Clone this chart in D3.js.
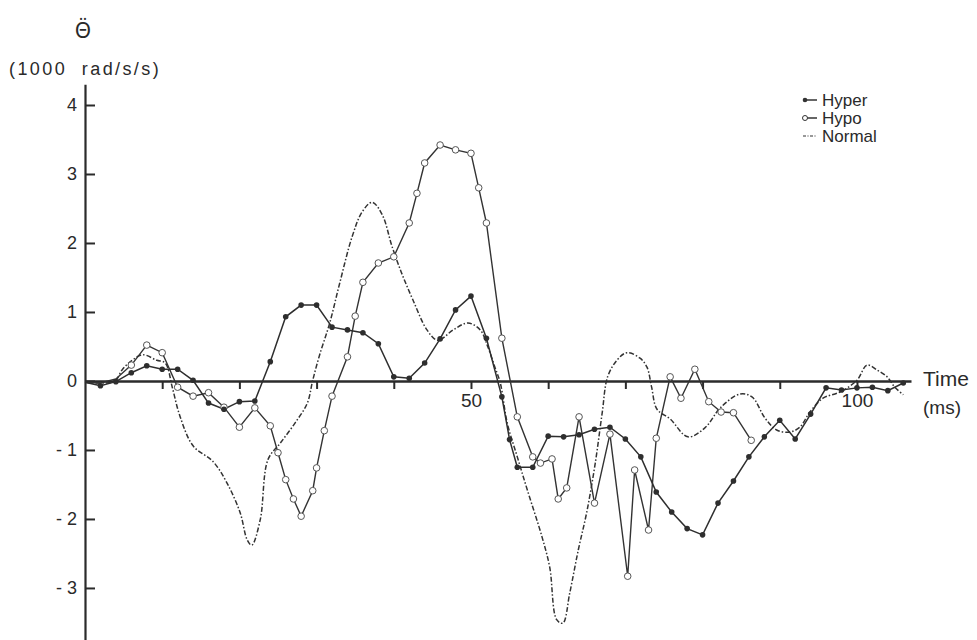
<!DOCTYPE html>
<html>
<head>
<meta charset="utf-8">
<script src="https://cdn.jsdelivr.net/npm/d3@7"></script>
<style>
  body { margin: 0; background: #fff; }
  svg { display: block; }
  text { font-family: "Liberation Sans", Arial, sans-serif; fill: #2a2a2a; }
</style>
</head>
<body>
<div id="chart"></div>
<script>
// Angular acceleration vs time, three conditions
const hyperT = [0, 2, 4, 6, 8, 10, 12, 14, 16, 18, 20, 22, 24, 26, 28, 30, 32, 34, 36, 38, 40, 42, 44, 46, 48, 50,
  52, 54, 55, 56, 58, 60, 62, 64, 66, 68, 70, 72, 74, 76, 78, 80, 82, 84, 86, 88, 90, 92, 94, 96, 98, 100, 102, 104, 106];
const hyperV = [-0.02, -0.07, -0.01, 0.12, 0.22, 0.17, 0.17, 0.01, -0.32, -0.41, -0.30, -0.29, 0.28, 0.93, 1.10, 1.10,
  0.78, 0.74, 0.70, 0.54, 0.06, 0.04, 0.26, 0.61, 1.03, 1.23,
  0.62, -0.23, -0.85, -1.25, -1.25, -0.80, -0.81, -0.78, -0.70, -0.67, -0.84, -1.10, -1.61, -1.90, -2.14, -2.23, -1.77,
  -1.45, -1.10, -0.81, -0.57, -0.84, -0.48, -0.10, -0.13, -0.10, -0.09, -0.14, -0.03];

const hypoT = [0, 2, 4, 6, 8, 10, 12, 14, 16, 18, 20, 22, 24, 25, 26, 27, 28, 29.5, 30, 31, 32, 34, 35, 36, 38, 40,
  42, 43, 44, 46, 48, 50, 51, 52, 54, 56, 58, 59, 60.5, 61.3, 62.4, 64, 66, 68, 70.3, 71.2, 73, 74, 75.8, 77.2, 79,
  80.8, 82.4, 84, 86.3];
const hypoV = [-0.02, -0.03, 0.03, 0.23, 0.52, 0.41, -0.09, -0.22, -0.17, -0.38, -0.67, -0.39, -0.65, -1.04, -1.43,
  -1.71, -1.96, -1.59, -1.26, -0.72, -0.22, 0.35, 0.94, 1.43, 1.71, 1.80,
  2.29, 2.72, 3.16, 3.42, 3.35, 3.30, 2.80, 2.29, 0.62, -0.52, -1.10, -1.19, -1.13, -1.71, -1.55, -0.52, -1.77,
  -0.77, -2.83, -1.29, -2.16, -0.83, 0.06, -0.25, 0.17, -0.30, -0.45, -0.46, -0.86];

const normalT = [0, 2, 3.9, 4.8, 6.1, 7.5, 9.3, 10.4, 11.3, 12.3, 14.0, 16.6, 18.4, 20.1, 21.0, 21.6, 22.7, 23.7,
  25.3, 27.2, 28.8, 29.5, 30.4, 31.7, 33.0, 34.6, 35.9, 37.2, 38.5, 39.8, 41.1, 42.5, 44.3, 45.7, 47.7, 49.6, 51.2,
  52.2, 53.1, 53.8, 54.7, 56.0, 57.3, 59.2, 60.2, 61.1, 61.9, 62.8, 63.9, 65.0, 66.1, 67.0, 67.7, 68.9, 70.2, 71.9,
  72.8, 73.4, 74.1, 75.8, 78.1, 80.3, 82.3, 84.8, 86.4, 88.1, 89.6, 91.3, 92.6, 93.9, 95.6, 97.8, 100.0, 101.3,
  102.6, 103.9, 104.9, 106.0];
const normalV = [-0.02, -0.03, 0.0, 0.16, 0.30, 0.38, 0.30, 0.26, -0.09, -0.51, -0.94, -1.17, -1.48, -1.91, -2.30,
  -2.38, -2.01, -1.14, -0.90, -0.61, -0.32, 0.01, 0.38, 0.84, 1.42, 2.09, 2.45, 2.59, 2.41, 1.94, 1.54, 1.17, 0.74,
  0.59, 0.74, 0.84, 0.74, 0.49, 0.20, -0.03, -0.61, -1.10, -1.58, -2.26, -2.70, -3.46, -3.51, -3.07, -2.45, -1.90,
  -1.19, -0.46, 0.06, 0.30, 0.41, 0.33, 0.20, -0.09, -0.41, -0.55, -0.81, -0.68, -0.39, -0.19, -0.23, -0.54, -0.71,
  -0.74, -0.67, -0.45, -0.25, -0.16, 0.01, 0.23, 0.16, 0.06, -0.09, -0.20];

const yTicks = [4, 3, 2, 1, 0, -1, -2, -3];
const xTicks = [10, 20, 30, 40, 50, 60, 70, 80, 90, 100];
const xLabelled = [50, 100];
const legendItems = ['Hyper', 'Hypo', 'Normal'];

const width = 977, height = 640;
const svg = d3.select('#chart').append('svg')
  .attr('width', width)
  .attr('height', height);

const x = d3.scaleLinear().domain([0, 107]).range([85, 911]);
const y = d3.scaleLinear().domain([-3.85, 4.3]).range([646.6, 84.3]);

const ink = '#2b2b2b';

// axes
const yAxis = svg.append('g')
  .attr('transform', `translate(${x(0)},0)`)
  .call(d3.axisLeft(y).tickValues(yTicks).tickSizeInner(-10).tickSizeOuter(0).tickPadding(8)
    .tickFormat(d => d < 0 ? '- ' + Math.abs(d) : d));
yAxis.select('.domain').attr('stroke', ink).attr('stroke-width', 2.2);
yAxis.selectAll('.tick line').attr('stroke', ink).attr('stroke-width', 2);
yAxis.selectAll('.tick text').attr('font-size', '18px').attr('fill', ink)
  .style('font-family', '"Liberation Sans", Arial, sans-serif');

const xAxis = svg.append('g')
  .attr('transform', `translate(0,${y(0)})`)
  .call(d3.axisBottom(x).tickValues(xTicks).tickSizeInner(8).tickSizeOuter(0).tickPadding(5)
    .tickFormat(d => xLabelled.includes(d) ? d : ''));
xAxis.select('.domain').attr('stroke', ink).attr('stroke-width', 2.4);
xAxis.selectAll('.tick line').attr('stroke', ink).attr('stroke-width', 2);
xAxis.selectAll('.tick text').attr('font-size', '19px').attr('fill', ink)
  .style('font-family', '"Liberation Sans", Arial, sans-serif');

// series
const normalData = normalT.map((t, i) => [t, normalV[i]]);
const hypoData = hypoT.map((t, i) => [t, hypoV[i]]);
const hyperData = hyperT.map((t, i) => [t, hyperV[i]]);

const smooth = d3.line().curve(d3.curveCatmullRom.alpha(0.5)).x(d => x(d[0])).y(d => y(d[1]));
const straight = d3.line().x(d => x(d[0])).y(d => y(d[1]));

svg.append('path')
  .attr('d', smooth(normalData))
  .attr('fill', 'none')
  .attr('stroke', '#333')
  .attr('stroke-width', 1.5)
  .attr('stroke-dasharray', '5,2,1.5,2');

svg.append('path')
  .attr('d', straight(hypoData))
  .attr('fill', 'none')
  .attr('stroke', '#333')
  .attr('stroke-width', 1.4);

svg.append('path')
  .attr('d', straight(hyperData))
  .attr('fill', 'none')
  .attr('stroke', '#2e2e2e')
  .attr('stroke-width', 1.5);

svg.selectAll('.hypo-pt')
  .data(hypoData.slice(3))
  .join('circle')
  .attr('class', 'hypo-pt')
  .attr('cx', d => x(d[0]))
  .attr('cy', d => y(d[1]))
  .attr('r', 3.3)
  .attr('fill', '#fff')
  .attr('stroke', '#555')
  .attr('stroke-width', 1);

svg.selectAll('.hyper-pt')
  .data(hyperData.slice(1))
  .join('circle')
  .attr('class', 'hyper-pt')
  .attr('cx', d => x(d[0]))
  .attr('cy', d => y(d[1]))
  .attr('r', 2.8)
  .attr('fill', '#2e2e2e');

// titles: theta with double dot (combining diaeresis)
svg.append('text')
  .attr('x', 83).attr('y', 38)
  .attr('text-anchor', 'middle')
  .attr('font-size', '21px')
  .style('font-family', '"Noto Sans", sans-serif')
  .text('\u0398\u0308');

svg.append('text')
  .attr('x', 9).attr('y', 75)
  .attr('font-size', '18px')
  .attr('letter-spacing', '2.4')
  .style('white-space', 'pre')
  .text('(1000  rad/s/s)');

svg.append('text')
  .attr('x', 923).attr('y', 386)
  .attr('font-size', '21px')
  .text('Time');

svg.append('text')
  .attr('x', 923).attr('y', 414)
  .attr('font-size', '19px')
  .text('(ms)');

// legend
const legend = svg.append('g').attr('transform', 'translate(803,100)');
legendItems.forEach((name, i) => {
  const gy = i * 18;
  const row = legend.append('g').attr('transform', `translate(0,${gy})`);
  const ln = row.append('line')
    .attr('x1', 0).attr('x2', 14).attr('y1', 0).attr('y2', 0)
    .attr('stroke', '#333').attr('stroke-width', 1.5);
  if (name === 'Normal') ln.attr('stroke-dasharray', '3,1.5,1,1.5').attr('stroke-width', 1.2);
  if (name === 'Hyper') row.append('circle').attr('cx', 2).attr('cy', 0).attr('r', 2.3).attr('fill', '#333');
  if (name === 'Hypo') row.append('circle').attr('cx', 2).attr('cy', 0).attr('r', 2.5)
    .attr('fill', '#fff').attr('stroke', '#333').attr('stroke-width', 1);
  row.append('text')
    .attr('x', 19).attr('y', 6)
    .attr('font-size', '17px')
    .text(name);
});
</script>
</body>
</html>
